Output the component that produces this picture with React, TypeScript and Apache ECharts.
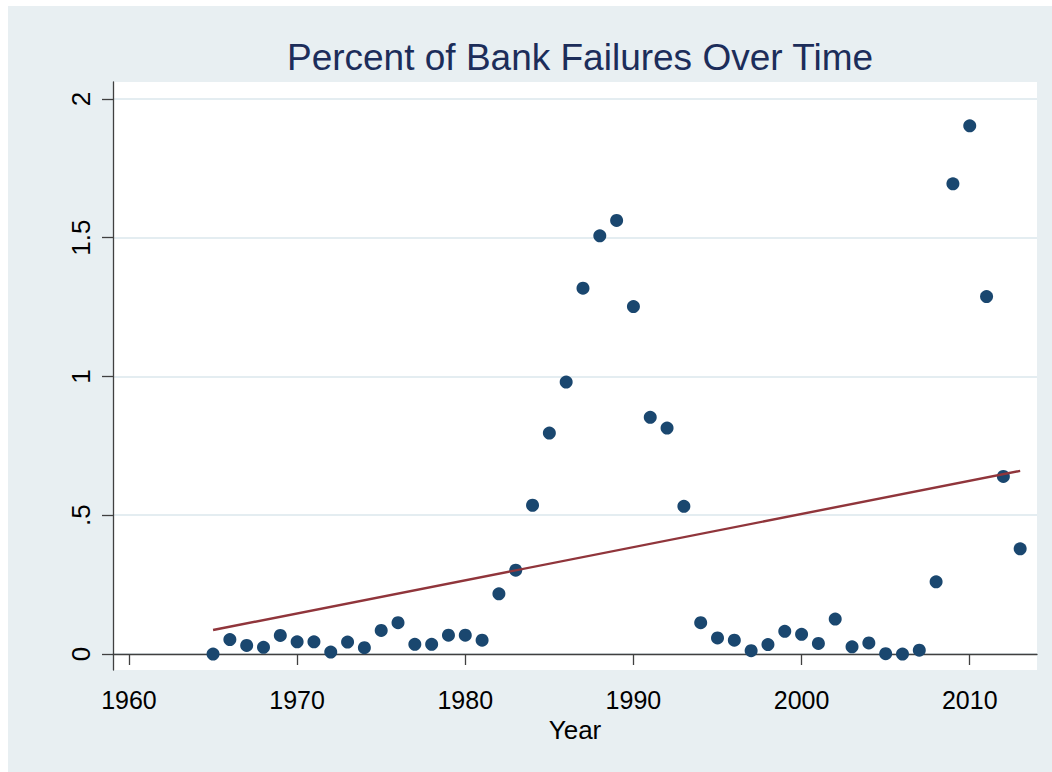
import React, { useEffect, useRef } from "react";
import * as echarts from "echarts";

const years: number[] = [
  1965, 1966, 1967, 1968, 1969, 1970, 1971, 1972, 1973, 1974, 1975, 1976, 1977, 1978, 1979, 1980, 1981,
  1982, 1983, 1984, 1985, 1986, 1987, 1988, 1989, 1990, 1991, 1992, 1993,
  1994, 1995, 1996, 1997, 1998, 1999, 2000, 2001, 2002, 2003, 2004, 2005, 2006, 2007, 2008,
  2009, 2010, 2011, 2012, 2013,
];
const pctFailures: number[] = [
  0.0, 0.052, 0.031, 0.024, 0.067, 0.044, 0.044, 0.007, 0.043, 0.023, 0.085, 0.113, 0.035, 0.035, 0.068, 0.068, 0.05,
  0.217, 0.302, 0.536, 0.796, 0.98, 1.318, 1.507, 1.562, 1.252, 0.853, 0.814, 0.532,
  0.113, 0.058, 0.05, 0.012, 0.034, 0.082, 0.071, 0.038, 0.126, 0.026, 0.04, 0.001, 0.0, 0.014, 0.26,
  1.694, 1.903, 1.288, 0.64, 0.379,
];
const xTicks: number[] = [1960, 1970, 1980, 1990, 2000, 2010];
const yTicks: number[] = [0, 0.5, 1, 1.5, 2];
const yTickLabels: string[] = ["0", ".5", "1", "1.5", "2"];

function linearFit(xs: number[], ys: number[]): [number, number] {
  const n = xs.length;
  const mx = xs.reduce((a, b) => a + b, 0) / n;
  const my = ys.reduce((a, b) => a + b, 0) / n;
  let sxy = 0;
  let sxx = 0;
  for (let i = 0; i < n; i++) {
    sxy += (xs[i] - mx) * (ys[i] - my);
    sxx += (xs[i] - mx) * (xs[i] - mx);
  }
  const b = sxy / sxx;
  return [my - b * mx, b];
}

export default function App() {
  const ref = useRef<HTMLDivElement>(null);
  useEffect(() => {
    if (!ref.current) return;
    const chart = echarts.init(ref.current, undefined, { renderer: "svg" });
    const [a, b] = linearFit(years, pctFailures);
    const x0 = years[0];
    const x1 = years[years.length - 1];
    const fitLine = [
      [x0, a + b * x0],
      [x1, a + b * x1],
    ];
    const font = "'Liberation Sans', Arial, Helvetica, sans-serif";
    chart.setOption({
      animation: false,
      backgroundColor: "#e8eff2",
      textStyle: { fontFamily: font },
      title: {
        text: "Percent of Bank Failures Over Time",
        left: 567,
        top: 28,
        textAlign: "center",
        textStyle: { fontFamily: font, fontSize: 37, fontWeight: "normal", color: "#1c2d5a" },
      },
      grid: {
        left: 105,
        right: 15,
        top: 76,
        bottom: 102,
        show: true,
        backgroundColor: "#ffffff",
        borderWidth: 0,
      },
      xAxis: {
        type: "value",
        min: 1959.05,
        max: 2014,
        name: "Year",
        nameLocation: "middle",
        nameGap: 42,
        nameTextStyle: { fontFamily: font, fontSize: 26, color: "#000" },
        axisLine: { show: true, lineStyle: { color: "#404040", width: 1.3 } },
        axisTick: { show: true, length: 11, lineStyle: { color: "#404040", width: 1.3 }, customValues: xTicks },
        axisLabel: {
          fontFamily: font,
          fontSize: 25,
          color: "#000",
          margin: 17,
          customValues: xTicks,
          formatter: (v: number) => String(v),
        },
        splitLine: { show: false },
      },
      yAxis: {
        type: "value",
        min: -0.0576,
        max: 2.061,
        axisLine: { show: true, lineStyle: { color: "#404040", width: 1.3 } },
        axisTick: { show: true, length: 11, lineStyle: { color: "#404040", width: 1.3 }, customValues: yTicks },
        axisLabel: {
          fontFamily: font,
          fontSize: 26,
          color: "#000",
          rotate: 90,
          margin: 19,
          customValues: yTicks,
          formatter: (v: number) => {
            const i = yTicks.findIndex((t) => Math.abs(t - v) < 1e-6);
            return i >= 0 ? yTickLabels[i] : "";
          },
        },
        splitLine: { show: true, lineStyle: { color: "#e4edf1", width: 2 } },
      },
      series: [
        {
          type: "scatter",
          data: years.map((y, i) => [y, pctFailures[i]]),
          symbol: "circle",
          symbolSize: 13,
          itemStyle: { color: "#1a476f", opacity: 1 },
          z: 3,
        },
        {
          type: "line",
          data: fitLine,
          showSymbol: false,
          symbol: "none",
          lineStyle: { color: "#90353b", width: 2.4 },
          z: 4,
        },
      ],
    });
    return () => chart.dispose();
  }, []);
  return (
    <div
      ref={ref}
      style={{ position: "absolute", left: 8, top: 6, width: 1044, height: 766 }}
    />
  );
}
